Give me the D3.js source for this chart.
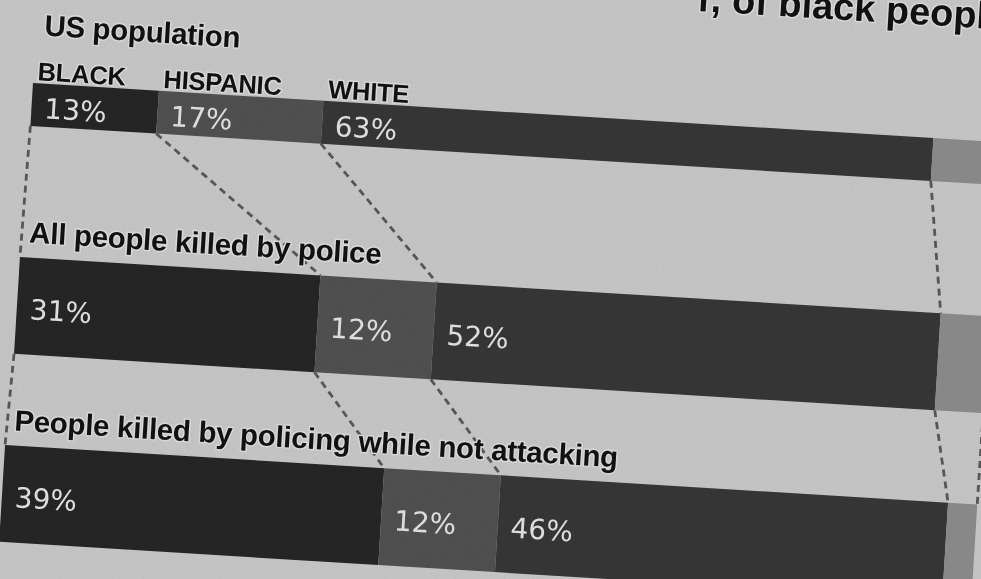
<!DOCTYPE html>
<html>
<head>
<meta charset="utf-8">
<script src="https://cdn.jsdelivr.net/npm/d3@7"></script>
<style>
  html, body { margin: 0; padding: 0; background: #c8c7c8; overflow: hidden; }
  svg { display: block; }
</style>
</head>
<body>
<svg id="chart" width="981" height="579"></svg>
<script>
// Share of each group (percent) in three populations
const groups = ["BLACK", "HISPANIC", "WHITE", "OTHER"];
const rowTitles = [
  "US population",
  "All people killed by police",
  "People killed by policing while not attacking"
];
const blackShare    = [13, 31, 39];
const hispanicShare = [17, 12, 12];
const whiteShare    = [63, 52, 46];
const otherShare    = [7, 5, 3];
const headline = "r, of black people";

const W = 981, H = 579;
const svg = d3.select("#chart");

// Row geometry: the printed page sits at a slight angle, rows drift left going down
const rowLayout = [
  { x0: 0,    w: 970, y: 0,     h: 43 },
  { x0: -2.4, w: 971, y: 174.5, h: 97 },
  { x0: -5.8, w: 974, y: 363,   h: 97 }
];

const color = d3.scaleOrdinal()
  .domain(groups)
  .range(["#252525", "#505050", "#363636", "#8b8b8b"]);

const rows = rowTitles.map((title, i) => {
  const values = [blackShare[i], hispanicShare[i], whiteShare[i], otherShare[i]];
  const stack = d3.cumsum(values);
  const segs = values.map((v, k) => ({
    group: groups[k], value: v, start: stack[k] - v, end: stack[k]
  }));
  const L = rowLayout[i];
  const x = d3.scaleLinear().domain([0, 100]).range([L.x0, L.x0 + L.w]);
  return { title, segs, x, L, bounds: [0, ...stack] };
});

// paper background with grain
const defs = svg.append("defs");
const grain = defs.append("filter").attr("id", "grain")
  .attr("x", 0).attr("y", 0).attr("width", "100%").attr("height", "100%");
grain.append("feTurbulence").attr("type", "fractalNoise")
  .attr("baseFrequency", 0.9).attr("numOctaves", 2).attr("seed", 7);
grain.append("feColorMatrix").attr("type", "saturate").attr("values", 0);

svg.append("rect").attr("width", W).attr("height", H).attr("fill", "#c8c7c8");

const g = svg.append("g").attr("transform", "translate(33,83) rotate(3.5)");

const halo = sel => sel
  .attr("stroke", "#dcdcdc").attr("stroke-width", 3)
  .attr("stroke-linejoin", "round").attr("paint-order", "stroke");

// headline, mostly running off the top of the page
g.append("text")
  .attr("x", 659).attr("y", -112.5)
  .attr("font-family", "Liberation Sans, Arial, sans-serif")
  .attr("font-weight", 700).attr("font-size", 38)
  .attr("fill", "#111")
  .call(halo)
  .text(headline);

// dashed connectors between matching boundaries of consecutive rows
const links = [];
for (let i = 0; i < rows.length - 1; i++) {
  const a = rows[i], b = rows[i + 1];
  a.bounds.forEach((c, k) => {
    links.push({
      x1: a.x(c), y1: a.L.y + a.L.h,
      x2: b.x(b.bounds[k]), y2: b.L.y
    });
  });
}
g.append("g").selectAll("line").data(links).join("line")
  .attr("x1", d => d.x1).attr("y1", d => d.y1)
  .attr("x2", d => d.x2).attr("y2", d => d.y2)
  .attr("stroke", "#585858").attr("stroke-width", 2.8)
  .attr("stroke-dasharray", "7 5");

// rows
const rowG = g.selectAll("g.row").data(rows).join("g").attr("class", "row");

rowG.selectAll("rect").data(d => d.segs.map(s => ({ ...s, row: d }))).join("rect")
  .attr("x", d => d.row.x(d.start))
  .attr("y", d => d.row.L.y)
  .attr("width", d => d.row.x(d.end) - d.row.x(d.start))
  .attr("height", d => d.row.L.h)
  .attr("fill", d => color(d.group));

// row titles
rowG.append("text")
  .attr("x", d => d.L.x0 + 8)
  .attr("y", (d, i) => i === 0 ? d.L.y - 48 : d.L.y - 15)
  .attr("font-family", "Liberation Sans, Arial, sans-serif")
  .attr("font-weight", 700).attr("font-size", 29.5)
  .attr("letter-spacing", -0.3)
  .attr("fill", "#111")
  .call(halo)
  .text(d => d.title);

// category names above the first row
const first = rows[0];
g.append("g").selectAll("text")
  .data(first.segs.filter(s => s.group !== "OTHER")).join("text")
  .attr("x", d => first.x(d.start) + 4)
  .attr("y", first.L.y - 3)
  .attr("font-family", "Liberation Sans, Arial, sans-serif")
  .attr("font-weight", 700).attr("font-size", 25.5)
  .attr("letter-spacing", -0.2)
  .attr("fill", "#111")
  .call(halo)
  .text(d => d.group);

// percentage labels inside the bars
rowG.selectAll("text.pct")
  .data(d => d.segs.filter(s => s.group !== "OTHER").map(s => ({ ...s, row: d })))
  .join("text").attr("class", "pct")
  .attr("x", d => d.row.x(d.start) + 13)
  .attr("y", d => d.row.L.y + d.row.L.h / 2 + 13)
  .attr("font-family", "DejaVu Sans, sans-serif")
  .attr("font-size", 28)
  .attr("fill", "#e2e2e2")
  .text(d => d3.format("d")(d.value) + "%");

// paper grain over everything
svg.append("rect").attr("width", W).attr("height", H)
  .attr("filter", "url(#grain)").attr("opacity", 0.16)
  .style("mix-blend-mode", "multiply");
</script>
</body>
</html>
